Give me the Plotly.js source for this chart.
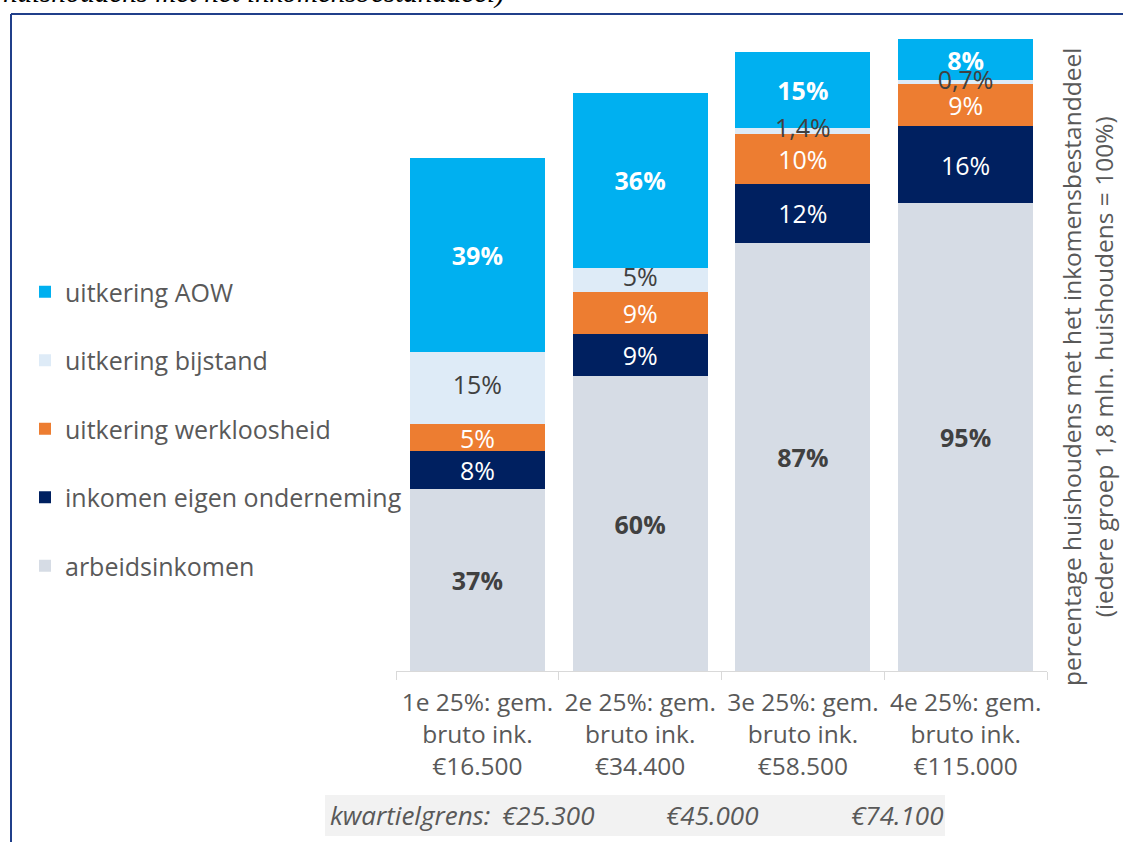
<!DOCTYPE html>
<html>
<head>
<meta charset="utf-8">
<script src="https://cdn.plot.ly/plotly-3.0.1.min.js"></script>
<style>
html,body{margin:0;padding:0;background:#fff;}
#chart{width:1123px;height:842px;}
</style>
</head>
<body>
<div id="chart"></div>
<script>
// ---- data ----
const categories = [
  "1e 25%: gem.<br>bruto ink.<br>€16.500",
  "2e 25%: gem.<br>bruto ink.<br>€34.400",
  "3e 25%: gem.<br>bruto ink.<br>€58.500",
  "4e 25%: gem.<br>bruto ink.<br>€115.000"
];
const seriesNames = ["arbeidsinkomen", "inkomen eigen onderneming", "uitkering werkloosheid", "uitkering bijstand", "uitkering AOW"];
// values (% of households)
const arbeidsinkomen = [36.9, 59.8, 86.8, 94.9];
const eigenOnderneming = [7.7, 8.6, 12.0, 15.6];
const werkloosheid = [5.5, 8.5, 10.1, 8.5];
const bijstand = [14.6, 4.9, 1.3, 0.8];
const aow = [39.4, 35.5, 15.4, 8.3];
// data labels as printed in the chart
const arbeidLabels = ["37%", "60%", "87%", "95%"];
const eigenLabels = ["8%", "9%", "12%", "16%"];
const werkloosLabels = ["5%", "9%", "10%", "9%"];
const bijstandLabels = ["15%", "5%", "1,4%", "0,7%"];
const aowLabels = ["39%", "36%", "15%", "8%"];
const kwartielLabel = "kwartielgrens:";
const kwartielgrenzen = ["€25.300", "€45.000", "€74.100"];
const yTitle = "percentage huishoudens met het inkomensbestanddeel<br>(iedere groep 1,8 mln. huishoudens = 100%)";
const topTitle = "huishoudens met het inkomensbestanddeel)";

// ---- styling ----
const FONT = "'Open Sans', sans-serif";
const GRAY = "#595959";
const DARK = "#404040";
const FS = 25;

const values = [arbeidsinkomen, eigenOnderneming, werkloosheid, bijstand, aow];
const labels = [arbeidLabels, eigenLabels, werkloosLabels, bijstandLabels, aowLabels];
const colors = ["#D6DCE5", "#002060", "#ED7D31", "#DEEBF7", "#00B0F0"];
const textColors = [DARK, "#ffffff", "#ffffff", DARK, "#ffffff"];
const weights = ["bold", "normal", "normal", "normal", "bold"];
const ranks = [5, 4, 3, 2, 1];

const traces = values.map((vals, i) => ({
  type: 'bar',
  name: seriesNames[i],
  x: categories,
  y: vals,
  text: i === 3 ? null : labels[i],
  textposition: i === 3 ? 'none' : 'inside',
  insidetextanchor: 'middle',
  textangle: 0,
  constraintext: 'none',
  cliponaxis: false,
  textfont: {family: FONT, size: FS, color: textColors[i], weight: weights[i]},
  marker: {color: colors[i], line: {width: 0}},
  legendgroup: 'g' + i,
  legendrank: ranks[i],
  hoverinfo: 'skip'
}));

// bijstand labels drawn on top of everything (they overflow thin segments)
traces.push({
  type: 'scatter', mode: 'text', x: categories,
  y: bijstand.map((v, k) => arbeidsinkomen[k] + eigenOnderneming[k] + werkloosheid[k] + v / 2),
  text: bijstandLabels, textposition: 'middle center',
  textfont: {family: FONT, size: FS, color: DARK},
  showlegend: false, hoverinfo: 'skip', cliponaxis: false
});

const L = 396, R = 1047, T = 30, B = 671;
const px = x => (x - L) / (R - L);
const py = y => (B - y) / (B - T);

const annotations = [
  {text: topTitle, xref: 'paper', yref: 'paper', x: px(1), y: py(11), xanchor: 'left', yanchor: 'bottom',
   showarrow: false, font: {family: "'Liberation Serif', serif", size: 29, color: '#000', style: 'italic'}},
  {text: yTitle, xref: 'paper', yref: 'paper', x: px(1087), y: py(367), xanchor: 'center', yanchor: 'middle',
   textangle: -90, showarrow: false, font: {family: FONT, size: 24.5, color: GRAY}},
  {text: kwartielLabel, xref: 'paper', yref: 'paper', x: px(328), y: py(815), xanchor: 'left', yanchor: 'middle',
   showarrow: false, font: {family: FONT, size: 26, color: GRAY, style: 'italic'}}
];
const kwX = [500, 664, 849];
kwartielgrenzen.forEach((t, i) => annotations.push({
  text: t, xref: 'paper', yref: 'paper', x: px(kwX[i]), y: py(815), xanchor: 'left', yanchor: 'middle',
  showarrow: false, font: {family: FONT, size: 26, color: GRAY, style: 'italic'}
}));

const shapes = [
  {type: 'rect', xref: 'paper', yref: 'paper', x0: px(325), x1: px(945), y0: py(836), y1: py(795),
   fillcolor: '#F2F2F2', line: {width: 0}, layer: 'below'},
  {type: 'line', xref: 'paper', yref: 'paper', x0: px(11), x1: px(11), y0: py(14), y1: py(850),
   line: {color: '#203F8A', width: 2}},
  {type: 'line', xref: 'paper', yref: 'paper', x0: px(11), x1: px(1130), y0: py(14), y1: py(14),
   line: {color: '#203F8A', width: 2}}
];

const layout = {
  width: 1123, height: 842,
  margin: {l: L, r: 1123 - R, t: T, b: 842 - B, pad: 0},
  barmode: 'stack',
  bargap: 0.17,
  paper_bgcolor: '#ffffff',
  plot_bgcolor: '#ffffff',
  font: {family: FONT, color: GRAY, size: FS},
  showlegend: true,
  legend: {
    x: px(25), y: py(269), xanchor: 'left', yanchor: 'top',
    traceorder: 'grouped', tracegroupgap: 33,
    font: {family: FONT, size: FS, color: GRAY},
    bgcolor: 'rgba(0,0,0,0)', itemclick: false
  },
  xaxis: {
    type: 'category', showline: true, linecolor: '#D9D9D9', linewidth: 1,
    ticks: 'outside', tickson: 'boundaries', ticklen: 8, tickcolor: '#D9D9D9', tickangle: 0,
    ticklabelstandoff: 10,
    tickfont: {family: FONT, size: 24.5, color: GRAY}, showgrid: false, zeroline: false, fixedrange: true
  },
  yaxis: {
    range: [0, 130], showgrid: false, showticklabels: false, zeroline: false, showline: false,
    ticks: '', fixedrange: true
  },
  uniformtext: {mode: 'show', minsize: FS},
  annotations: annotations,
  shapes: shapes
};

Plotly.newPlot('chart', traces, layout, {displayModeBar: false, staticPlot: true});
</script>
</body>
</html>
